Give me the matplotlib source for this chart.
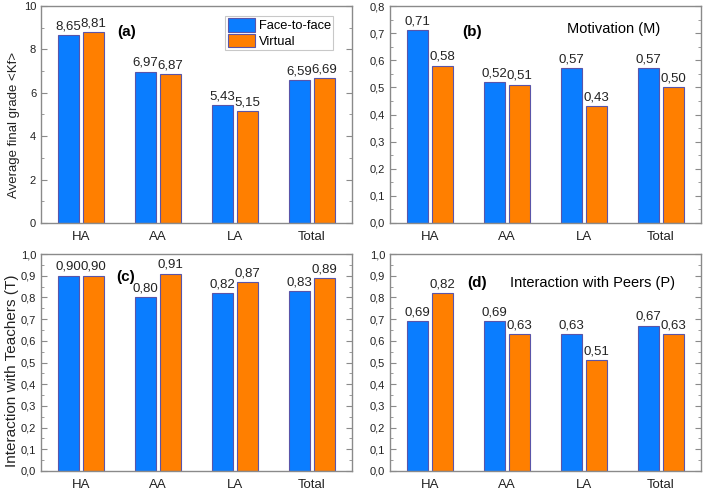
import matplotlib
matplotlib.use('Agg')
import matplotlib.pyplot as plt
import numpy as np
from matplotlib.ticker import MultipleLocator, FuncFormatter

plt.rcParams['font.family'] = ['Liberation Sans', 'DejaVu Sans']

groups = ['HA', 'AA', 'LA', 'Total']

kf_face = [8.65, 6.97, 5.43, 6.59]
kf_virt = [8.81, 6.87, 5.15, 6.69]

mot_face = [0.71, 0.52, 0.57, 0.57]
mot_virt = [0.58, 0.51, 0.43, 0.50]

teach_face = [0.90, 0.80, 0.82, 0.83]
teach_virt = [0.90, 0.91, 0.87, 0.89]

peer_face = [0.69, 0.69, 0.63, 0.67]
peer_virt = [0.82, 0.63, 0.51, 0.63]

blue = '#0A7DFF'
orange = '#FF7F00'
edge = '#5A55A8'
grey = '#8a8a8a'

fig = plt.figure(figsize=(7.04, 4.92), dpi=100)
W, H = 704.0, 492.0

def make_ax(l, t, r, b):
    return fig.add_axes([l / W, 1 - b / H, (r - l) / W, (b - t) / H])

ax_a = make_ax(41, 6, 352, 223)
ax_b = make_ax(390, 6, 701, 223)
ax_c = make_ax(41, 254, 352, 471)
ax_d = make_ax(390, 254, 701, 471)

x = np.arange(len(groups))
bw = 0.27
off = 0.165


def comma(v, dec):
    return ('%.*f' % (dec, v)).replace('.', ',')


def panel(ax, face, virt, ymax, major, minor, tickdec):
    b1 = ax.bar(x - off, face, bw, color=blue, edgecolor=edge, linewidth=0.8,
                label='Face-to-face', zorder=2)
    b2 = ax.bar(x + off, virt, bw, color=orange, edgecolor=edge, linewidth=0.8,
                label='Virtual', zorder=2)
    for bars, vals in ((b1, face), (b2, virt)):
        for r, v in zip(bars, vals):
            ax.annotate(comma(v, 2), (r.get_x() + r.get_width() / 2, v),
                        xytext=(0, 2), textcoords='offset points',
                        ha='center', va='bottom', fontsize=9.5, color='#222222')
    ax.set_xlim(-0.52, 3.52)
    ax.set_ylim(0, ymax)
    ax.set_xticks(x)
    ax.set_xticklabels(groups, fontsize=9.5)
    ax.yaxis.set_major_locator(MultipleLocator(major))
    ax.yaxis.set_minor_locator(MultipleLocator(minor))
    ax.yaxis.set_major_formatter(FuncFormatter(lambda v, p: comma(v, tickdec)))
    ax.tick_params(axis='y', which='both', direction='in', left=True, right=True,
                   labelsize=8, colors=grey, labelcolor='#222222')
    ax.tick_params(axis='y', which='major', length=4)
    ax.tick_params(axis='y', which='minor', length=2)
    ax.tick_params(axis='x', length=0, pad=6, labelcolor='#222222')
    for s in ax.spines.values():
        s.set_color(grey)
        s.set_linewidth(1.0)
    return b1, b2


panel(ax_a, kf_face, kf_virt, 10, 2, 1, 0)
panel(ax_b, mot_face, mot_virt, 0.8, 0.1, 0.05, 1)
panel(ax_c, teach_face, teach_virt, 1.0, 0.1, 0.05, 1)
panel(ax_d, peer_face, peer_virt, 1.0, 0.1, 0.05, 1)

ax_a.set_ylabel('Average final grade <Kf>', fontsize=9.5, color='#222222', va='center')
ax_a.yaxis.set_label_coords(-0.087, 0.45)
ax_c.set_ylabel('Interaction with Teachers (T)', fontsize=11, color='#222222', va='center')
ax_c.yaxis.set_label_coords(-0.093, 0.46)

ax_a.text(0.244, 0.88, '(a)', transform=ax_a.transAxes, fontsize=11,
          fontweight='bold', ha='left', va='center')
ax_b.text(0.232, 0.88, '(b)', transform=ax_b.transAxes, fontsize=11,
          fontweight='bold', ha='left', va='center')
ax_b.text(0.72, 0.895, 'Motivation (M)', transform=ax_b.transAxes, fontsize=10.5,
          ha='center', va='center')
ax_c.text(0.242, 0.894, '(c)', transform=ax_c.transAxes, fontsize=11,
          fontweight='bold', ha='left', va='center')
ax_d.text(0.248, 0.866, '(d)', transform=ax_d.transAxes, fontsize=11,
          fontweight='bold', ha='left', va='center')
ax_d.text(0.65, 0.866, 'Interaction with Peers (P)', transform=ax_d.transAxes,
          fontsize=10.5, ha='center', va='center')

leg = ax_a.legend(loc='upper right', bbox_to_anchor=(0.94, 0.955), fontsize=9.3,
                  frameon=True, fancybox=False, edgecolor='#bbbbbb',
                  handlelength=2.1, handleheight=1.2, handletextpad=0.3,
                  borderpad=0.2, labelspacing=0.1, borderaxespad=0)
leg.get_frame().set_linewidth(0.8)

fig.savefig('out.png', dpi=100)
